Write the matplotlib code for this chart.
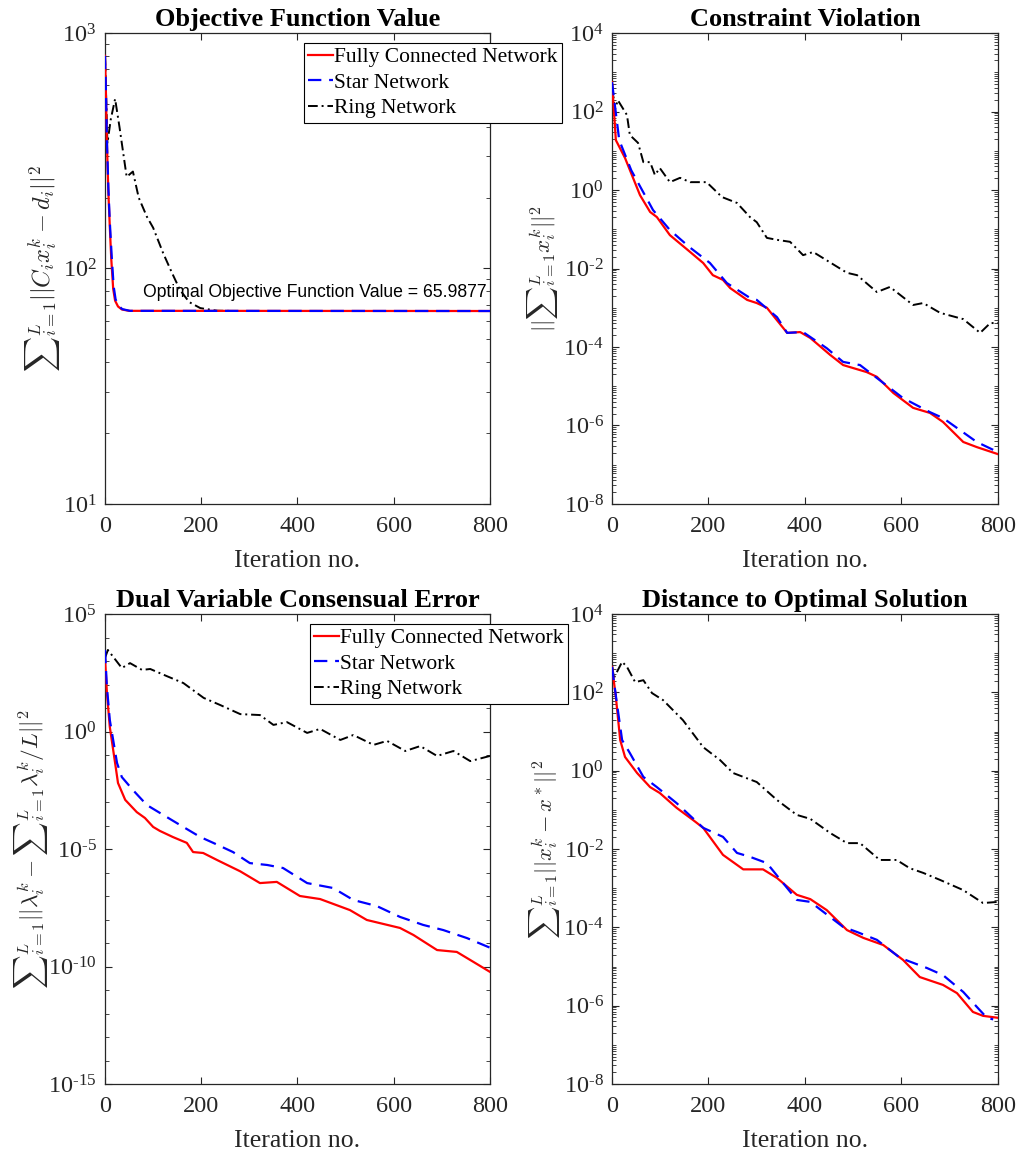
import numpy as np
import matplotlib
matplotlib.use("Agg")
import matplotlib.pyplot as plt
from matplotlib.ticker import FixedLocator, LogLocator, NullFormatter, FuncFormatter

plt.rcParams['font.family'] = ['Liberation Serif', 'DejaVu Serif']
plt.rcParams['mathtext.fontset'] = 'custom'
plt.rcParams['mathtext.rm'] = 'Liberation Serif'
plt.rcParams['mathtext.it'] = 'Liberation Serif:italic'
plt.rcParams['mathtext.bf'] = 'Liberation Serif:bold'

# ---- data (iteration, value) ----
# Objective function value
obj_fc_it = [0, 2, 4, 7, 10, 13, 17, 21, 27, 35, 50, 800]
obj_fc = [800, 550, 340, 210, 150, 110, 82, 73, 69, 67, 66.1, 65.99]
obj_star_it = [0, 2, 4, 7, 10, 14, 18, 22, 28, 36, 52, 800]
obj_star = [800, 560, 350, 220, 158, 112, 84, 74, 69.5, 67.2, 66.1, 65.99]
obj_ring_it = [0, 5, 12, 21, 30, 45, 58, 70, 87, 100, 121, 140, 156, 175, 198, 232, 270, 800]
obj_ring = [800, 340, 430, 525, 400, 245, 258, 200, 166, 149, 116, 95, 81, 72, 67.9, 66.2, 66.0, 65.99]

# Constraint violation (log10 values)
cv_fc_it = [0, 8, 27, 58, 79, 93, 120, 162, 189, 209, 230, 245, 280, 300, 321, 363, 390, 411, 452,
            479, 528, 549, 583, 624, 659, 686, 728, 756, 800]
cv_fc = [2.75, 1.27, 0.815, -0.13, -0.56, -0.69, -1.15, -1.58, -1.86, -2.17, -2.29, -2.50, -2.80,
         -2.88, -3.0, -3.64, -3.62, -3.77, -4.20, -4.46, -4.64, -4.76, -5.17, -5.55, -5.68, -5.91,
         -6.42, -6.55, -6.73]
cv_star_it = [0, 15, 40, 85, 120, 160, 203, 238, 286, 300, 342, 363, 396, 445, 479, 514, 549, 603,
              659, 686, 756, 790]
cv_star = [2.75, 1.27, 0.5, -0.51, -1.02, -1.45, -1.86, -2.37, -2.75, -2.80, -3.24, -3.64, -3.62,
           -4.03, -4.38, -4.46, -4.79, -5.30, -5.66, -5.81, -6.42, -6.62]
cv_ring_it = [0, 6, 12, 31, 37, 54, 65, 79, 89, 99, 120, 141, 162, 196, 228, 259, 286, 300, 321,
              342, 369, 396, 417, 487, 508, 549, 576, 624, 645, 680, 728, 763, 784, 800]
cv_ring = [2.73, 2.04, 2.29, 1.91, 1.40, 1.20, 0.71, 0.71, 0.38, 0.56, 0.20, 0.31, 0.20, 0.20,
           -0.18, -0.33, -0.69, -0.82, -1.22, -1.27, -1.32, -1.66, -1.58, -2.11, -2.17, -2.60,
           -2.47, -2.93, -2.88, -3.13, -3.29, -3.64, -3.39, -3.39]

# Dual variable consensual error (log10 values)
de_fc_it = [0, 4, 10, 21, 27, 42, 66, 83, 100, 114, 141, 170, 183, 204, 233, 281, 322, 357, 405,
            447, 509, 544, 613, 641, 690, 731, 766, 800]
de_fc = [3.13, 1.64, 0.19, -1.34, -2.19, -2.91, -3.43, -3.68, -4.06, -4.23, -4.49, -4.74, -5.13,
         -5.17, -5.47, -5.95, -6.45, -6.40, -7.0, -7.13, -7.60, -8.02, -8.36, -8.66, -9.30, -9.38,
         -9.81, -10.23]
de_star_it = [0, 4, 10, 25, 35, 58, 87, 121, 156, 198, 225, 266, 301, 337, 370, 420, 474, 516,
              565, 613, 661, 703, 752, 800]
de_star = [3.47, 1.89, 0.49, -1.34, -1.94, -2.49, -3.13, -3.55, -3.98, -4.49, -4.74, -5.13, -5.60,
           -5.68, -5.81, -6.45, -6.66, -7.17, -7.43, -7.89, -8.23, -8.45, -8.79, -9.20]
de_ring_it = [0, 6, 35, 52, 77, 94, 128, 163, 205, 239, 281, 322, 350, 378, 420, 447, 489, 516,
              558, 586, 624, 655, 690, 724, 759, 800]
de_ring = [3.13, 3.47, 2.70, 2.91, 2.62, 2.66, 2.36, 2.06, 1.43, 1.13, 0.74, 0.70, 0.28, 0.40,
           -0.06, 0.11, -0.36, -0.15, -0.57, -0.40, -0.83, -0.62, -1.04, -0.83, -1.26, -1.04]

# Distance to optimal solution (log10 values)
ds_fc_it = [0, 8, 17, 27, 52, 79, 99, 134, 168, 189, 230, 272, 313, 342, 383, 411, 445, 487, 521,
            562, 603, 638, 686, 715, 748, 769, 800]
ds_fc = [2.65, 1.88, 0.78, 0.35, -0.06, -0.42, -0.57, -0.95, -1.26, -1.46, -2.15, -2.52, -2.52,
         -2.74, -3.17, -3.28, -3.56, -4.07, -4.27, -4.45, -4.83, -5.27, -5.47, -5.68, -6.16, -6.26,
         -6.31]
ds_star_it = [0, 10, 21, 37, 65, 93, 134, 189, 230, 259, 286, 321, 383, 411, 479, 508, 549, 597,
              653, 686, 728, 756, 777, 790]
ds_star = [2.65, 1.73, 0.78, 0.45, -0.16, -0.42, -0.83, -1.46, -1.69, -2.10, -2.20, -2.36, -3.30,
           -3.35, -3.99, -4.12, -4.32, -4.78, -5.04, -5.22, -5.65, -6.03, -6.31, -6.35]
ds_ring_it = [0, 4, 21, 31, 48, 65, 83, 106, 147, 189, 224, 251, 300, 342, 383, 411, 452, 487,
              514, 555, 590, 617, 645, 680, 728, 769, 800]
ds_ring = [2.70, 2.37, 2.78, 2.65, 2.26, 2.31, 1.98, 1.80, 1.29, 0.60, 0.27, -0.06, -0.29, -0.75,
           -1.13, -1.23, -1.59, -1.85, -1.85, -2.28, -2.28, -2.49, -2.61, -2.79, -3.05, -3.38,
           -3.35]

labels = ['Fully Connected Network', 'Star Network', 'Ring Network']
titles = ['Objective Function Value', 'Constraint Violation',
          'Dual Variable Consensual Error', 'Distance to Optimal Solution']
ylabels = [r'${\sum}_{i=1}^{L}||C_ix_i^k-d_i||^2$',
           r'$||{\sum}_{i=1}^{L}x_i^k||^2$',
           r'${\sum}_{i=1}^{L}||\lambda_i^k-{\sum}_{i=1}^{L}\lambda_i^k/L||^2$',
           r'${\sum}_{i=1}^{L}||x_i^k-x^*||^2$']

GRAY = '#262626'


def exp_fmt(v, pos):
    e = int(round(np.log10(v)))
    if e < 0:
        return r'$10^{\text{-}%d}$' % (-e)
    return r'$10^{%d}$' % e


fig = plt.figure(figsize=(10.2, 11.51), dpi=100)
W, H = 1020.0, 1151.0
boxes = [(105, 33, 490, 504), (612, 33, 998, 504), (105, 614, 490, 1084), (612, 614, 998, 1084)]
axes = []
for (l, t, r, b) in boxes:
    axes.append(fig.add_axes([l / W, 1 - b / H, (r - l) / W, (b - t) / H]))

series = [
    (obj_fc_it, obj_fc, obj_star_it, obj_star, obj_ring_it, obj_ring, False),
    (cv_fc_it, cv_fc, cv_star_it, cv_star, cv_ring_it, cv_ring, True),
    (de_fc_it, de_fc, de_star_it, de_star, de_ring_it, de_ring, True),
    (ds_fc_it, ds_fc, ds_star_it, ds_star, ds_ring_it, ds_ring, True),
]
ylims = [(1e1, 1e3), (1e-8, 1e4), (1e-15, 1e5), (1e-8, 1e4)]
majors = [[1e1, 1e2, 1e3], [10.0 ** e for e in range(-8, 5, 2)],
          [10.0 ** e for e in range(-15, 6, 5)], [10.0 ** e for e in range(-8, 5, 2)]]
label_x = [-0.112, -0.135, -0.143, -0.13]
label_fs = [17.5, 16.5, 16.8, 16.2]

for i, ax in enumerate(axes):
    fx, fy, sx, sy, rx, ry, is_log = series[i]
    fy = 10.0 ** np.array(fy) if is_log else np.array(fy)
    sy = 10.0 ** np.array(sy) if is_log else np.array(sy)
    ry = 10.0 ** np.array(ry) if is_log else np.array(ry)
    ax.semilogy(fx, fy, color='red', lw=1.6, label=labels[0], zorder=3)
    ax.semilogy(sx, sy, color='blue', lw=1.6, ls=(0, (6, 3.5)), label=labels[1], zorder=4)
    ax.semilogy(rx, ry, color='black', lw=1.4, ls=(0, (5, 2, 1, 2)), label=labels[2], zorder=2)
    ax.set_xlim(0, 800)
    ax.set_ylim(*ylims[i])
    ax.xaxis.set_major_locator(FixedLocator([0, 200, 400, 600, 800]))
    ax.yaxis.set_major_locator(FixedLocator(majors[i]))
    if i == 2:
        ax.yaxis.set_minor_locator(LogLocator(base=10, subs=[1.0], numticks=100))
    else:
        ax.yaxis.set_minor_locator(LogLocator(base=10, subs=np.arange(1, 10), numticks=100))
    ax.yaxis.set_minor_formatter(NullFormatter())
    ax.yaxis.set_major_formatter(FuncFormatter(exp_fmt))
    ax.tick_params(which='both', direction='in', top=True, right=True, colors=GRAY,
                   labelsize=17.5, labelcolor=GRAY)
    ax.tick_params(which='major', length=5, width=0.8)
    ax.tick_params(axis='x', which='major', pad=9)
    ax.tick_params(axis='y', which='major', pad=6)
    ax.tick_params(which='minor', length=3, width=0.6)
    for sp in ax.spines.values():
        sp.set_color(GRAY)
        sp.set_linewidth(0.9)
    ax.set_title(titles[i], fontsize=19, fontweight='bold', pad=5)
    ax.set_xlabel('Iteration no.', fontsize=18.5, color=GRAY, labelpad=9)
    ax.set_ylabel(ylabels[i], fontsize=label_fs[i], color=GRAY, math_fontfamily='cm')
    ax.yaxis.set_label_coords(label_x[i], 0.5)

axes[0].text(79, 78.7, 'Optimal Objective Function Value = 65.9877', fontsize=12.7,
             family='Liberation Sans', ha='left', va='center', color='black', zorder=5)

for i, (lx, ty) in [(0, (304, 43)), (2, (310, 624))]:
    leg = axes[i].legend(loc='upper left', bbox_to_anchor=(lx / W, 1 - ty / H),
                         bbox_transform=fig.transFigure, fontsize=15.5, handlelength=1.15,
                         handletextpad=0.05, borderpad=0.2, labelspacing=0.25,
                         borderaxespad=0, fancybox=False, framealpha=1, edgecolor='black')
    leg.get_frame().set_linewidth(0.8)
    leg.set_zorder(10)

fig.savefig('out.png', dpi=100, facecolor='white')
